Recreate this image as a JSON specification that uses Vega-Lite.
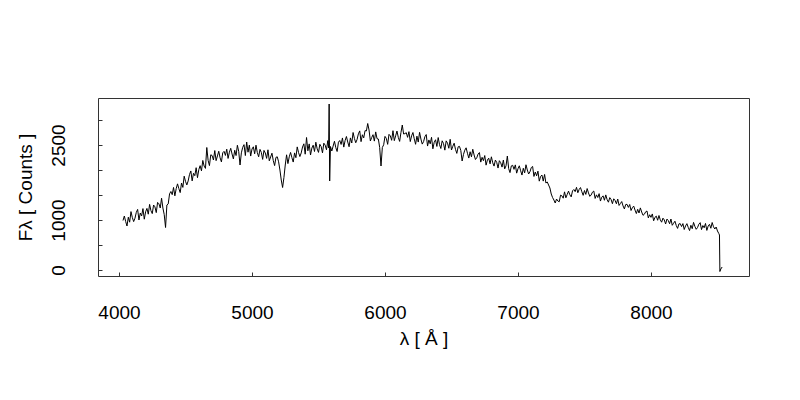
{
"$schema": "https://vega.github.io/schema/vega-lite/v6.json",
"width": 651, "height": 178,
"autosize": {"type": "none"},
"padding": {"left": 98, "top": 98, "right": 51, "bottom": 124},
"background": "white",
"config": {"view": {"stroke": "#333", "strokeWidth": 1}, "font": "Liberation Sans"},
"data": {"values": [
{"w":4030,"f":990},{"w":4040,"f":1080},{"w":4050,"f":970},{"w":4060,"f":880},{"w":4070,"f":1056},{"w":4080,"f":956},{"w":4090,"f":1168},{"w":4100,"f":1052},{"w":4110,"f":968},{"w":4120,"f":1036},
{"w":4130,"f":1152},{"w":4140,"f":1212},{"w":4150,"f":1000},{"w":4160,"f":1140},{"w":4170,"f":1080},{"w":4180,"f":1228},{"w":4190,"f":1016},{"w":4200,"f":1164},{"w":4210,"f":1232},{"w":4220,"f":1116},
{"w":4230,"f":1312},{"w":4240,"f":1188},{"w":4250,"f":1128},{"w":4260,"f":1300},{"w":4270,"f":1264},{"w":4280,"f":1148},{"w":4290,"f":1352},{"w":4300,"f":1324},{"w":4310,"f":1240},{"w":4320,"f":1436},
{"w":4330,"f":1240},{"w":4340,"f":1108},{"w":4350,"f":850},{"w":4360,"f":1300},{"w":4370,"f":1322},{"w":4380,"f":1522},{"w":4390,"f":1570},{"w":4400,"f":1507},{"w":4410,"f":1651},{"w":4420,"f":1483},
{"w":4430,"f":1627},{"w":4440,"f":1723},{"w":4450,"f":1628},{"w":4460,"f":1548},{"w":4470,"f":1740},{"w":4480,"f":1652},{"w":4490,"f":1876},{"w":4500,"f":1773},{"w":4510,"f":1701},{"w":4520,"f":1781},
{"w":4530,"f":1909},{"w":4540,"f":1981},{"w":4550,"f":1782},{"w":4560,"f":1934},{"w":4570,"f":1886},{"w":4580,"f":2046},{"w":4590,"f":1846},{"w":4600,"f":2007},{"w":4610,"f":2087},{"w":4620,"f":1983},
{"w":4630,"f":2191},{"w":4640,"f":2079},{"w":4650,"f":2032},{"w":4660,"f":2450},{"w":4670,"f":2192},{"w":4680,"f":2088},{"w":4690,"f":2304},{"w":4700,"f":2290},{"w":4710,"f":2200},{"w":4720,"f":2389},
{"w":4730,"f":2187},{"w":4740,"f":2281},{"w":4750,"f":2375},{"w":4760,"f":2244},{"w":4770,"f":2162},{"w":4780,"f":2344},{"w":4790,"f":2373},{"w":4800,"f":2291},{"w":4810,"f":2417},{"w":4820,"f":2231},
{"w":4830,"f":2356},{"w":4840,"f":2434},{"w":4850,"f":2320},{"w":4860,"f":2221},{"w":4870,"f":2395},{"w":4880,"f":2289},{"w":4890,"f":2495},{"w":4900,"f":2372},{"w":4910,"f":2100},{"w":4920,"f":2343},
{"w":4930,"f":2453},{"w":4940,"f":2507},{"w":4950,"f":2289},{"w":4960,"f":2560},{"w":4970,"f":2356},{"w":4980,"f":2498},{"w":4990,"f":2279},{"w":5000,"f":2420},{"w":5010,"f":2464},{"w":5020,"f":2324},
{"w":5030,"f":2496},{"w":5040,"f":2348},{"w":5050,"f":2264},{"w":5060,"f":2412},{"w":5070,"f":2352},{"w":5080,"f":2212},{"w":5090,"f":2392},{"w":5100,"f":2340},{"w":5110,"f":2232},{"w":5120,"f":2404},
{"w":5130,"f":2184},{"w":5140,"f":2260},{"w":5150,"f":2336},{"w":5160,"f":2188},{"w":5170,"f":2088},{"w":5180,"f":2252},{"w":5190,"f":2264},{"w":5200,"f":2164},{"w":5210,"f":2000},{"w":5220,"f":1800},
{"w":5230,"f":1650},{"w":5240,"f":1850},{"w":5250,"f":2100},{"w":5260,"f":2304},{"w":5270,"f":2128},{"w":5280,"f":2263},{"w":5290,"f":2351},{"w":5300,"f":2247},{"w":5310,"f":2159},{"w":5320,"f":2342},
{"w":5330,"f":2246},{"w":5340,"f":2462},{"w":5350,"f":2349},{"w":5360,"f":2269},{"w":5370,"f":2341},{"w":5380,"f":2460},{"w":5390,"f":2524},{"w":5400,"f":2316},{"w":5410,"f":2650},{"w":5420,"f":2384},
{"w":5430,"f":2522},{"w":5440,"f":2300},{"w":5450,"f":2438},{"w":5460,"f":2496},{"w":5470,"f":2370},{"w":5480,"f":2556},{"w":5490,"f":2422},{"w":5500,"f":2352},{"w":5510,"f":2514},{"w":5520,"f":2468},
{"w":5530,"f":2342},{"w":5540,"f":2536},{"w":5550,"f":2498},{"w":5560,"f":2404},{"w":5570,"f":2588},{"w":5576,"f":2440},{"w":5580,"f":3320},{"w":5584,"f":1780},{"w":5590,"f":2470},{"w":5600,"f":2380},
{"w":5610,"f":2478},{"w":5620,"f":2575},{"w":5630,"f":2449},{"w":5640,"f":2370},{"w":5650,"f":2556},{"w":5660,"f":2590},{"w":5670,"f":2511},{"w":5680,"f":2641},{"w":5690,"f":2458},{"w":5700,"f":2588},
{"w":5710,"f":2670},{"w":5720,"f":2559},{"w":5730,"f":2465},{"w":5740,"f":2642},{"w":5750,"f":2540},{"w":5760,"f":2750},{"w":5770,"f":2631},{"w":5780,"f":2545},{"w":5790,"f":2610},{"w":5800,"f":2724},
{"w":5810,"f":2782},{"w":5820,"f":2567},{"w":5830,"f":2705},{"w":5840,"f":2642},{"w":5850,"f":2788},{"w":5860,"f":2780},{"w":5870,"f":2930},{"w":5880,"f":2800},{"w":5890,"f":2580},{"w":5900,"f":2650},
{"w":5910,"f":2706},{"w":5920,"f":2578},{"w":5930,"f":2762},{"w":5940,"f":2626},{"w":5950,"f":2620},{"w":5960,"f":2450},{"w":5970,"f":2080},{"w":5980,"f":2450},{"w":5990,"f":2504},{"w":6000,"f":2672},
{"w":6010,"f":2633},{"w":6020,"f":2513},{"w":6030,"f":2713},{"w":6040,"f":2682},{"w":6050,"f":2594},{"w":6060,"f":2786},{"w":6070,"f":2587},{"w":6080,"f":2683},{"w":6090,"f":2779},{"w":6100,"f":2652},
{"w":6110,"f":2572},{"w":6120,"f":2750},{"w":6130,"f":2900},{"w":6140,"f":2720},{"w":6150,"f":2728},{"w":6160,"f":2746},{"w":6170,"f":2653},{"w":6180,"f":2767},{"w":6190,"f":2569},{"w":6200,"f":2683},
{"w":6210,"f":2750},{"w":6220,"f":2624},{"w":6230,"f":2514},{"w":6240,"f":2677},{"w":6250,"f":2559},{"w":6260,"f":2753},{"w":6270,"f":2619},{"w":6280,"f":2518},{"w":6290,"f":2568},{"w":6300,"f":2666},
{"w":6310,"f":2709},{"w":6320,"f":2479},{"w":6330,"f":2601},{"w":6340,"f":2523},{"w":6350,"f":2654},{"w":6360,"f":2424},{"w":6370,"f":2554},{"w":6380,"f":2605},{"w":6390,"f":2471},{"w":6400,"f":2649},
{"w":6410,"f":2507},{"w":6420,"f":2430},{"w":6430,"f":2584},{"w":6440,"f":2530},{"w":6450,"f":2397},{"w":6460,"f":2583},{"w":6470,"f":2537},{"w":6480,"f":2435},{"w":6490,"f":2614},{"w":6500,"f":2400},
{"w":6510,"f":2475},{"w":6520,"f":2536},{"w":6530,"f":2414},{"w":6540,"f":2332},{"w":6550,"f":2464},{"w":6560,"f":2473},{"w":6570,"f":2390},{"w":6580,"f":2180},{"w":6590,"f":2309},{"w":6600,"f":2396},
{"w":6610,"f":2444},{"w":6620,"f":2335},{"w":6630,"f":2239},{"w":6640,"f":2365},{"w":6650,"f":2263},{"w":6660,"f":2415},{"w":6670,"f":2300},{"w":6680,"f":2210},{"w":6690,"f":2245},{"w":6700,"f":2319},
{"w":6710,"f":2349},{"w":6720,"f":2158},{"w":6730,"f":2254},{"w":6740,"f":2186},{"w":6750,"f":2289},{"w":6760,"f":2097},{"w":6770,"f":2199},{"w":6780,"f":2237},{"w":6790,"f":2123},{"w":6800,"f":2264},
{"w":6810,"f":2145},{"w":6820,"f":2078},{"w":6830,"f":2199},{"w":6840,"f":2152},{"w":6850,"f":2039},{"w":6860,"f":2186},{"w":6870,"f":2146},{"w":6880,"f":2058},{"w":6890,"f":2199},{"w":6900,"f":2022},
{"w":6910,"f":2084},{"w":6920,"f":2280},{"w":6930,"f":2028},{"w":6940,"f":1948},{"w":6950,"f":2082},{"w":6960,"f":2094},{"w":6970,"f":2013},{"w":6980,"f":2102},{"w":6990,"f":1937},{"w":7000,"f":2026},
{"w":7010,"f":2084},{"w":7020,"f":1985},{"w":7030,"f":1899},{"w":7040,"f":2035},{"w":7050,"f":1943},{"w":7060,"f":2105},{"w":7070,"f":2000},{"w":7080,"f":1920},{"w":7090,"f":1965},{"w":7100,"f":2049},
{"w":7110,"f":2071},{"w":7120,"f":1871},{"w":7130,"f":1959},{"w":7140,"f":1883},{"w":7150,"f":1977},{"w":7160,"f":1777},{"w":7170,"f":1871},{"w":7180,"f":1900},{"w":7190,"f":1778},{"w":7200,"f":1911},
{"w":7210,"f":1740},{"w":7220,"f":1760},{"w":7230,"f":1700},{"w":7240,"f":1640},{"w":7250,"f":1520},{"w":7260,"f":1450},{"w":7270,"f":1400},{"w":7280,"f":1340},{"w":7290,"f":1420},{"w":7300,"f":1380},
{"w":7310,"f":1365},{"w":7320,"f":1497},{"w":7330,"f":1484},{"w":7340,"f":1436},{"w":7350,"f":1563},{"w":7360,"f":1444},{"w":7370,"f":1511},{"w":7380,"f":1578},{"w":7390,"f":1505},{"w":7400,"f":1462},
{"w":7410,"f":1583},{"w":7420,"f":1610},{"w":7430,"f":1567},{"w":7440,"f":1654},{"w":7450,"f":1545},{"w":7460,"f":1612},{"w":7470,"f":1649},{"w":7480,"f":1566},{"w":7490,"f":1493},{"w":7500,"f":1590},
{"w":7510,"f":1512},{"w":7520,"f":1629},{"w":7530,"f":1541},{"w":7540,"f":1473},{"w":7550,"f":1500},{"w":7560,"f":1557},{"w":7570,"f":1579},{"w":7580,"f":1431},{"w":7590,"f":1503},{"w":7600,"f":1450},
{"w":7610,"f":1527},{"w":7620,"f":1379},{"w":7630,"f":1456},{"w":7640,"f":1483},{"w":7650,"f":1395},{"w":7660,"f":1502},{"w":7670,"f":1409},{"w":7680,"f":1356},{"w":7690,"f":1448},{"w":7700,"f":1410},
{"w":7710,"f":1326},{"w":7720,"f":1424},{"w":7730,"f":1391},{"w":7740,"f":1325},{"w":7750,"f":1419},{"w":7760,"f":1291},{"w":7770,"f":1330},{"w":7780,"f":1369},{"w":7790,"f":1281},{"w":7800,"f":1221},
{"w":7810,"f":1310},{"w":7820,"f":1313},{"w":7830,"f":1252},{"w":7840,"f":1310},{"w":7850,"f":1190},{"w":7860,"f":1247},{"w":7870,"f":1278},{"w":7880,"f":1199},{"w":7890,"f":1129},{"w":7900,"f":1214},
{"w":7910,"f":1140},{"w":7920,"f":1242},{"w":7930,"f":1160},{"w":7940,"f":1094},{"w":7950,"f":1115},{"w":7960,"f":1164},{"w":7970,"f":1180},{"w":7980,"f":1042},{"w":7990,"f":1105},{"w":8000,"f":1053},
{"w":8010,"f":1121},{"w":8020,"f":985},{"w":8030,"f":1054},{"w":8040,"f":1077},{"w":8050,"f":995},{"w":8060,"f":1090},{"w":8070,"f":1004},{"w":8080,"f":956},{"w":8090,"f":1037},{"w":8100,"f":1001},
{"w":8110,"f":920},{"w":8120,"f":1019},{"w":8130,"f":989},{"w":8140,"f":925},{"w":8150,"f":1020},{"w":8160,"f":894},{"w":8170,"f":935},{"w":8180,"f":976},{"w":8190,"f":890},{"w":8200,"f":832},
{"w":8210,"f":922},{"w":8220,"f":927},{"w":8230,"f":869},{"w":8240,"f":928},{"w":8250,"f":810},{"w":8260,"f":881},{"w":8270,"f":927},{"w":8280,"f":853},{"w":8290,"f":789},{"w":8300,"f":895},
{"w":8310,"f":826},{"w":8320,"f":952},{"w":8330,"f":873},{"w":8340,"f":814},{"w":8350,"f":850},{"w":8360,"f":916},{"w":8370,"f":947},{"w":8380,"f":808},{"w":8390,"f":889},{"w":8400,"f":845},
{"w":8410,"f":931},{"w":8420,"f":792},{"w":8430,"f":878},{"w":8440,"f":914},{"w":8450,"f":835},{"w":8460,"f":950},{"w":8470,"f":865},{"w":8480,"f":820},{"w":8490,"f":860},{"w":8500,"f":780},
{"w":8510,"f":730},{"w":8515,"f":700},{"w":8518,"f":-30},{"w":8525,"f":20},{"w":8535,"f":60}
]},
"mark": {"type": "line", "color": "black", "strokeWidth": 1},
"encoding": {
  "x": {"field": "w", "type": "quantitative",
    "scale": {"domain": [3842, 8737], "nice": false, "zero": false},
    "axis": {"values": [4000, 5000, 6000, 7000, 8000], "format": "d", "title": "λ [ Å ]", "domain": false, "grid": false,
      "tickSize": -4, "tickColor": "#333", "labelFontSize": 19, "labelColor": "black", "labelPadding": 31,
      "labelFont": "Liberation Sans", "titleFont": "Liberation Sans",
      "titleFontSize": 19, "titleFontWeight": "normal", "titleColor": "black", "titlePadding": 7}},
  "y": {"field": "f", "type": "quantitative",
    "scale": {"domain": [-120, 3440], "nice": false, "zero": false},
    "axis": {"values": [0, 500, 1000, 1500, 2000, 2500, 3000], "format": "d", "title": "Fλ [ Counts ]", "domain": false, "grid": false,
      "labelExpr": "datum.value == 0 || datum.value == 1000 || datum.value == 2500 ? datum.label : ''",
      "tickSize": -4, "tickColor": "#333", "labelFontSize": 19, "labelColor": "black", "labelPadding": 34, "labelAngle": -90,
      "labelFont": "Liberation Sans", "titleFont": "Liberation Sans",
      "titleFontSize": 19, "titleFontWeight": "normal", "titleColor": "black", "titlePadding": 14}}
}
}
